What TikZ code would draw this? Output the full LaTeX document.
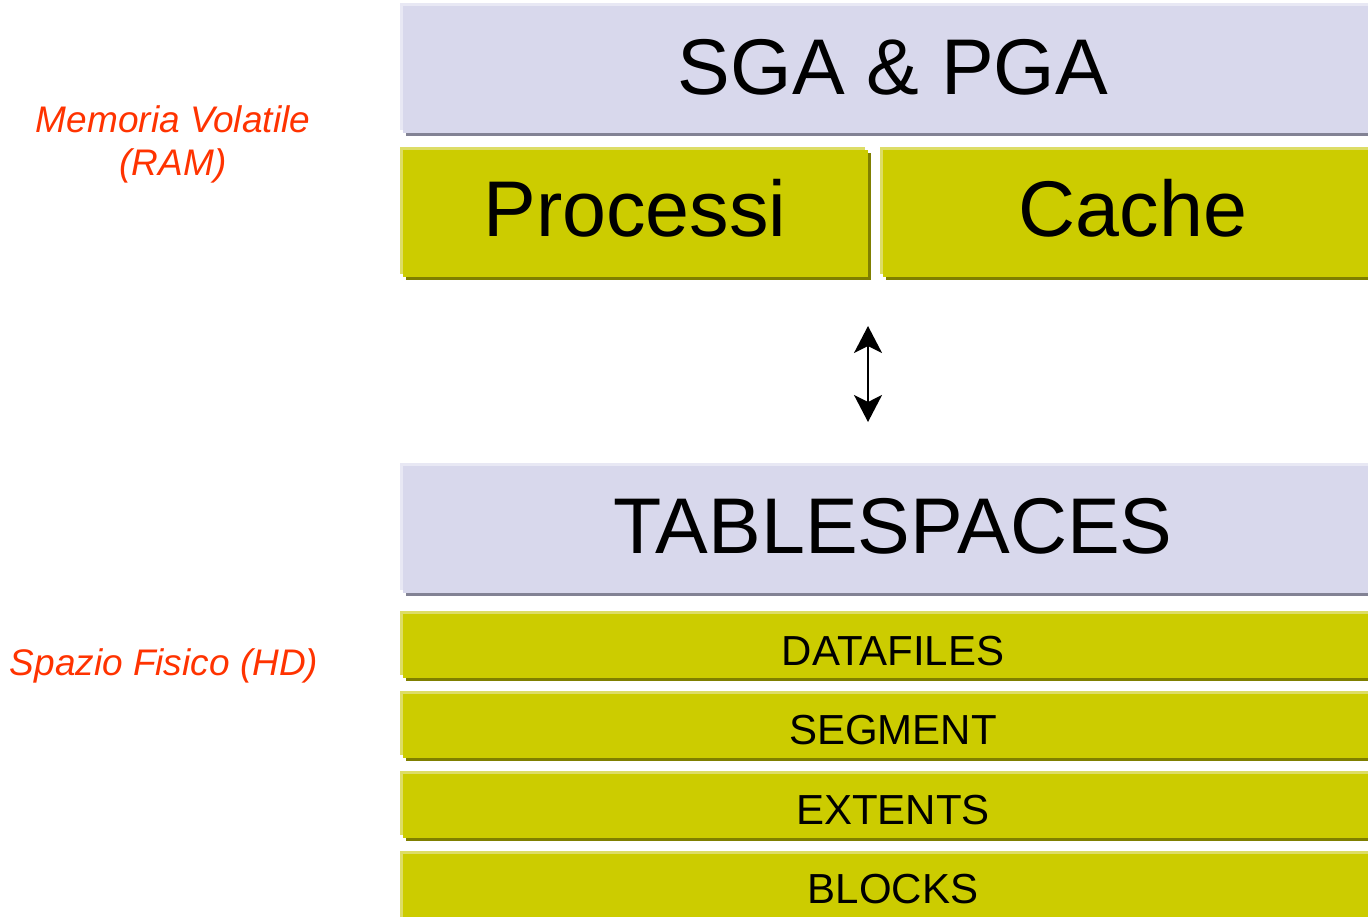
\documentclass[tikz,border=0pt]{standalone}
\usepackage{fontspec}
\setmainfont{Liberation Sans}
\usetikzlibrary{arrows.meta}
\definecolor{lavbody}{HTML}{D8D8EC}
\definecolor{lavlight}{HTML}{E8E8F4}
\definecolor{lavdark}{HTML}{828294}
\definecolor{olbody}{HTML}{CCCC00}
\definecolor{ollight}{HTML}{DDDD66}
\definecolor{oldark}{HTML}{7F7F00}
\definecolor{labred}{HTML}{FF3300}
\newcommand{\bevbox}[7]{%
  \fill[#7] (#1+3,#2+3) rectangle (#3+3,#4+3);
  \fill[#5] (#1-3,#2-3) rectangle (#3-3,#4-3);
  \fill[#6] (#1,#2) rectangle (#3,#4);
}
\tikzset{
  bigtxt/.style={anchor=base, inner sep=0pt, font=\fontsize{39.5}{40}\selectfont},
  smalltxt/.style={anchor=base, inner sep=0pt, font=\fontsize{21}{22}\selectfont},
  redlab/.style={inner sep=0pt, align=center, text=labred, font=\fontsize{18.5}{21.5}\selectfont\itshape},
  dblhead/.style={line width=1pt, {Stealth[length=13.5pt,width=14pt,inset=3.5pt]}-{Stealth[length=13.5pt,width=14pt,inset=3.5pt]}},
}
\begin{document}
\begin{tikzpicture}[x=0.5pt,y=-0.5pt]
\clip (0,0) rectangle (1368,916);
\fill[white] (0,0) rectangle (1368,916);
% memory boxes
\bevbox{403}{6}{1384}{133}{lavlight}{lavbody}{lavdark}
\bevbox{403}{150}{868}{277}{ollight}{olbody}{oldark}
\bevbox{883}{150}{1384}{277}{ollight}{olbody}{oldark}
% disk boxes
\bevbox{403}{466}{1384}{593}{lavlight}{lavbody}{lavdark}
\bevbox{403}{614}{1384}{678}{ollight}{olbody}{oldark}
\bevbox{403}{694}{1384}{758}{ollight}{olbody}{oldark}
\bevbox{403}{774}{1384}{838}{ollight}{olbody}{oldark}
\bevbox{403}{854}{1384}{920}{ollight}{olbody}{oldark}
% texts
\node[bigtxt] (sga) at (893,94) {SGA \& PGA};
\node[bigtxt] (proc) at (635,236) {Processi};
\node[bigtxt] (cache) at (1133,236) {Cache};
\node[bigtxt] (ts) at (893,553) {TABLESPACES};
\node[smalltxt] (df) at (893,665) {DATAFILES};
\node[smalltxt] (seg) at (893,744) {SEGMENT};
\node[smalltxt] (ext) at (893,824) {EXTENTS};
\node[smalltxt] (blk) at (893,903) {BLOCKS};
\node[redlab, anchor=base] (ram) at (173,175) {Memoria Volatile\\(RAM)};
\node[redlab, anchor=base] (hd) at (164,675) {Spazio Fisico (HD)};
% arrow
\coordinate (atop) at (868,326);
\coordinate (abot) at (868,422);
\draw[dblhead] (atop) -- (abot);
\end{tikzpicture}
\end{document}
